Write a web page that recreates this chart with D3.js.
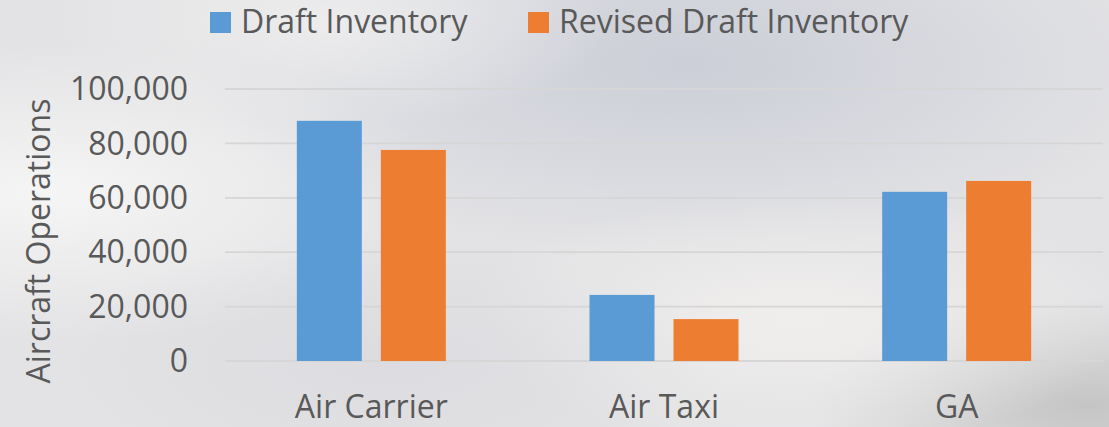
<!DOCTYPE html>
<html>
<head>
<meta charset="utf-8">
<script src="https://cdn.jsdelivr.net/npm/d3@7"></script>
<style>
  html, body { margin: 0; padding: 0; }
  body { width: 1109px; height: 427px; overflow: hidden; }
  svg { display: block; font-family: "Open Sans", sans-serif; }
</style>
</head>
<body>
<svg id="chart"></svg>
<script>
const categories = ["Air Carrier", "Air Taxi", "GA"];
const seriesNames = ["Draft Inventory", "Revised Draft Inventory"];
const draftValues = [88300, 24300, 62200];
const revisedValues = [77600, 15400, 66200];
const yTicks = [0, 20000, 40000, 60000, 80000, 100000];

const width = 1109, height = 427;
const margin = {top: 89, right: 6, bottom: 66, left: 225};
const colors = d3.scaleOrdinal().domain(seriesNames).range(["#5b9bd5", "#ed7d31"]);
const textColor = "#595959";

const svg = d3.select("#chart").attr("width", width).attr("height", height);

// cloudy backdrop, roughly like the photo behind the chart
const defs = svg.append("defs");
const blobs = [
  {id: "c1", cx: 0.62, cy: 0.15, r: 0.45, color: "#c9ccd6", op: 0.9},
  {id: "c2", cx: 0.05, cy: 0.45, r: 0.35, color: "#f7f7f7", op: 0.9},
  {id: "c3", cx: 0.98, cy: 0.95, r: 0.25, color: "#bdbdbd", op: 0.8},
  {id: "c4", cx: 0.72, cy: 0.75, r: 0.3, color: "#f2f0ee", op: 0.9},
  {id: "c5", cx: 0.35, cy: 0.85, r: 0.3, color: "#d9d9de", op: 0.7},
  {id: "c6", cx: 0.3, cy: 0.05, r: 0.25, color: "#f0f0f0", op: 0.8}
];
svg.append("rect").attr("width", width).attr("height", height).attr("fill", "#e3e3e5");
blobs.forEach(b => {
  const g = defs.append("radialGradient").attr("id", b.id)
    .attr("cx", b.cx).attr("cy", b.cy).attr("r", b.r);
  g.append("stop").attr("offset", "0%").attr("stop-color", b.color).attr("stop-opacity", b.op);
  g.append("stop").attr("offset", "100%").attr("stop-color", b.color).attr("stop-opacity", 0);
  svg.append("rect").attr("width", width).attr("height", height).attr("fill", `url(#${b.id})`);
});

const x0 = d3.scaleBand()
  .domain(categories)
  .range([margin.left, width - margin.right])
  .paddingInner(0)
  .paddingOuter(0);

// each pair of bars is 149px wide, bars 65px, gap between them ~19px
const groupW = 149;
const barW = 65;
const x1 = d3.scaleBand()
  .domain(seriesNames)
  .range([0, groupW])
  .paddingInner(1 - barW / (groupW - barW));

const y = d3.scaleLinear()
  .domain([0, 100000])
  .range([height - margin.bottom, margin.top]);

// gridlines
svg.append("g")
  .selectAll("line")
  .data(yTicks)
  .join("line")
  .attr("x1", margin.left)
  .attr("x2", width - margin.right)
  .attr("y1", d => y(d))
  .attr("y2", d => y(d))
  .attr("stroke", "#d6d6d6")
  .attr("stroke-width", 1.8);

// y tick labels
const fmt = d3.format(",");
svg.append("g")
  .selectAll("text")
  .data(yTicks)
  .join("text")
  .attr("x", 188)
  .attr("y", d => y(d))
  .attr("dy", "0.35em")
  .attr("text-anchor", "end")
  .attr("fill", textColor)
  .style("font-size", "32px")
  .text(d => fmt(d));

// y title
svg.append("text")
  .attr("transform", `translate(50, ${(margin.top + (height - margin.bottom)) / 2 + 16}) rotate(-90)`)
  .attr("text-anchor", "middle")
  .attr("fill", textColor)
  .style("font-size", "32px")
  .text("Aircraft Operations");

// bars
const rows = categories.map((c, i) => ({
  category: c,
  values: [
    {series: seriesNames[0], value: draftValues[i]},
    {series: seriesNames[1], value: revisedValues[i]}
  ]
}));

svg.append("g")
  .selectAll("g")
  .data(rows)
  .join("g")
  .attr("transform", d => `translate(${x0(d.category) + (x0.bandwidth() - groupW) / 2}, 0)`)
  .selectAll("rect")
  .data(d => d.values)
  .join("rect")
  .attr("x", d => x1(d.series))
  .attr("width", x1.bandwidth())
  .attr("y", d => y(d.value))
  .attr("height", d => y(0) - y(d.value))
  .attr("fill", d => colors(d.series));

// category labels
svg.append("g")
  .selectAll("text")
  .data(categories)
  .join("text")
  .attr("x", d => x0(d) + x0.bandwidth() / 2)
  .attr("y", 418)
  .attr("text-anchor", "middle")
  .attr("fill", textColor)
  .style("font-size", "32px")
  .text(d => d);

// legend
const legendX = [210, 528];
const legend = svg.append("g")
  .selectAll("g")
  .data(seriesNames)
  .join("g")
  .attr("transform", (d, i) => `translate(${legendX[i]}, 12)`);

legend.append("rect")
  .attr("width", 21)
  .attr("height", 21)
  .attr("fill", d => colors(d));

legend.append("text")
  .attr("x", 31)
  .attr("y", 21)
  .attr("fill", textColor)
  .style("font-size", "32px")
  .text(d => d);
</script>
</body>
</html>
